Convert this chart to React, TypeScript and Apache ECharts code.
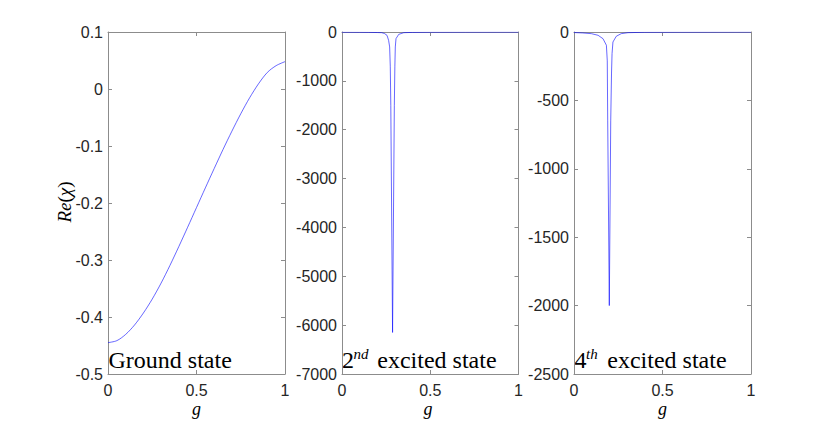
import React, { useEffect, useRef } from "react";
import * as echarts from "echarts";

// ---------- data ----------
const gGround = [0, 0.05, 0.1, 0.15, 0.2, 0.25, 0.3, 0.35, 0.4, 0.45, 0.5, 0.55, 0.6, 0.65, 0.7, 0.75, 0.8, 0.85, 0.9, 0.95, 1];
const vGround = [-0.445, -0.4415, -0.4305, -0.414, -0.393, -0.3685, -0.3405, -0.3095, -0.2765, -0.2425, -0.208, -0.1735, -0.1395, -0.106, -0.074, -0.0435, -0.0155, 0.009, 0.029, 0.041, 0.048];

const gSecond = [0, 0.1, 0.15, 0.2, 0.225, 0.24, 0.255, 0.264, 0.27, 0.2735, 0.2765, 0.2865, 0.2965, 0.2995, 0.302, 0.306, 0.3215, 0.35, 0.4, 0.5, 0.7, 1];
const vSecond = [-3, -5, -7, -11, -14, -30, -68, -170, -306, -700, -1500, -6150, -1500, -700, -306, -136, -48, -14, -8, -4, -2, -1];

const gFourth = [0, 0.05, 0.098, 0.136, 0.164, 0.183, 0.188, 0.1905, 0.1995, 0.2075, 0.212, 0.215, 0.22, 0.239, 0.267, 0.305, 0.4, 0.6, 1];
const vFourth = [-4, -7, -12, -24, -49, -97, -211, -650, -2000, -650, -300, -158, -73, -31, -12, -5, -2, -1, 0];

const xTicks = [0, 0.5, 1];
const yTicksGround = [0.1, 0, -0.1, -0.2, -0.3, -0.4, -0.5];
const yTicksSecond = [0, -1000, -2000, -3000, -4000, -5000, -6000, -7000];
const yTicksFourth = [0, -500, -1000, -1500, -2000, -2500];

const SANS = "'Liberation Sans', Arial, Helvetica, sans-serif";
const SERIF = "'Liberation Serif', 'Times New Roman', serif";
const AXIS_COLOR = "#8c8c8c";
const LABEL_COLOR = "#262626";

const grids = [
  { left: 108, top: 32, width: 177, height: 342 },
  { left: 342, top: 32, width: 176.5, height: 342 },
  { left: 574, top: 32, width: 177, height: 342 },
];

function fmt(v: number) {
  const r = Math.round(v * 10) / 10;
  return String(r === 0 ? 0 : r);
}

function buildOption() {
  const panels = [
    { g: gGround, v: vGround, y: yTicksGround, smooth: 0.3 },
    { g: gSecond, v: vSecond, y: yTicksSecond, smooth: false },
    { g: gFourth, v: vFourth, y: yTicksFourth, smooth: false },
  ];
  const xAxis: any[] = [];
  const yAxis: any[] = [];
  const series: any[] = [];
  const line = { show: true, onZero: false, lineStyle: { color: AXIS_COLOR, width: 1 } };
  const tick = { show: true, inside: true, length: 4, lineStyle: { color: AXIS_COLOR, width: 1 } };
  const label = { color: LABEL_COLOR, fontFamily: SANS, fontSize: 16 };
  panels.forEach((p, i) => {
    const xmin = Math.min(...xTicks);
    const xmax = Math.max(...xTicks);
    const xint = xTicks[1] - xTicks[0];
    const ymin = Math.min(...p.y);
    const ymax = Math.max(...p.y);
    const yint = p.y[0] - p.y[1];
    xAxis.push({
      type: "value", gridIndex: i, position: "bottom", min: xmin, max: xmax, interval: xint,
      axisLine: line, axisTick: tick, splitLine: { show: false },
      axisLabel: { ...label, margin: 8, formatter: (v: number) => fmt(v) },
    });
    xAxis.push({
      type: "value", gridIndex: i, position: "top", min: xmin, max: xmax, interval: xint,
      axisLine: line, axisTick: tick, splitLine: { show: false }, axisLabel: { show: false },
    });
    yAxis.push({
      type: "value", gridIndex: i, position: "left", min: ymin, max: ymax, interval: yint,
      axisLine: line, axisTick: tick, splitLine: { show: false },
      axisLabel: { ...label, margin: 5, formatter: (v: number) => fmt(v) },
    });
    yAxis.push({
      type: "value", gridIndex: i, position: "right", min: ymin, max: ymax, interval: yint,
      axisLine: line, axisTick: tick, splitLine: { show: false }, axisLabel: { show: false },
    });
    series.push({
      type: "line",
      xAxisIndex: 2 * i,
      yAxisIndex: 2 * i,
      data: p.g.map((g, k) => [g, p.v[k]]),
      showSymbol: false,
      symbol: "none",
      smooth: p.smooth,
      silent: true,
      lineStyle: { color: "#0000ff", width: 0.6 },
    });
  });

  const txt = (x: number, y: number, text: string, size: number, italic = false, align = "left") => ({
    type: "text",
    x,
    y,
    silent: true,
    style: {
      text,
      fontFamily: SERIF,
      fontSize: size,
      fontStyle: italic ? "italic" : "normal",
      fill: "#000",
      textAlign: align,
      textVerticalAlign: "middle",
    },
  });

  const graphic: any[] = [
    txt(108.5, 359.5, "Ground state", 24),
    txt(342, 359.5, "2", 24),
    txt(353.5, 354, "nd", 15, true),
    txt(377.3, 359.5, "excited state", 24),
    txt(574.5, 359.5, "4", 24),
    txt(586, 354, "th", 15, true),
    txt(607.3, 359.5, "excited state", 24),
    txt(196.4, 409, "g", 18, true, "center"),
    txt(428, 409, "g", 18, true, "center"),
    txt(662.5, 409, "g", 18, true, "center"),
    {
      type: "text",
      x: 64,
      y: 202,
      rotation: Math.PI / 2,
      silent: true,
      style: {
        text: "{i|Re}{u|(}{i|χ}{u|)}",
        textAlign: "center",
        textVerticalAlign: "middle",
        fill: "#000",
        rich: {
          i: { fontFamily: SERIF, fontStyle: "italic", fontSize: 19, fill: "#000" },
          u: { fontFamily: SERIF, fontSize: 19, fill: "#000" },
        },
      },
    },
  ];

  return {
    animation: false,
    backgroundColor: "#ffffff",
    grid: grids.map((g) => ({ ...g, containLabel: false })),
    xAxis,
    yAxis,
    series,
    graphic,
  };
}

export default function App() {
  const ref = useRef<HTMLDivElement>(null);
  useEffect(() => {
    if (!ref.current) return;
    const chart = echarts.init(ref.current, undefined, { renderer: "svg" });
    chart.setOption(buildOption() as any);
    return () => chart.dispose();
  }, []);
  return (
    <div
      ref={ref}
      style={{ position: "fixed", left: 0, top: 0, width: 830, height: 421, background: "#fff" }}
    />
  );
}
